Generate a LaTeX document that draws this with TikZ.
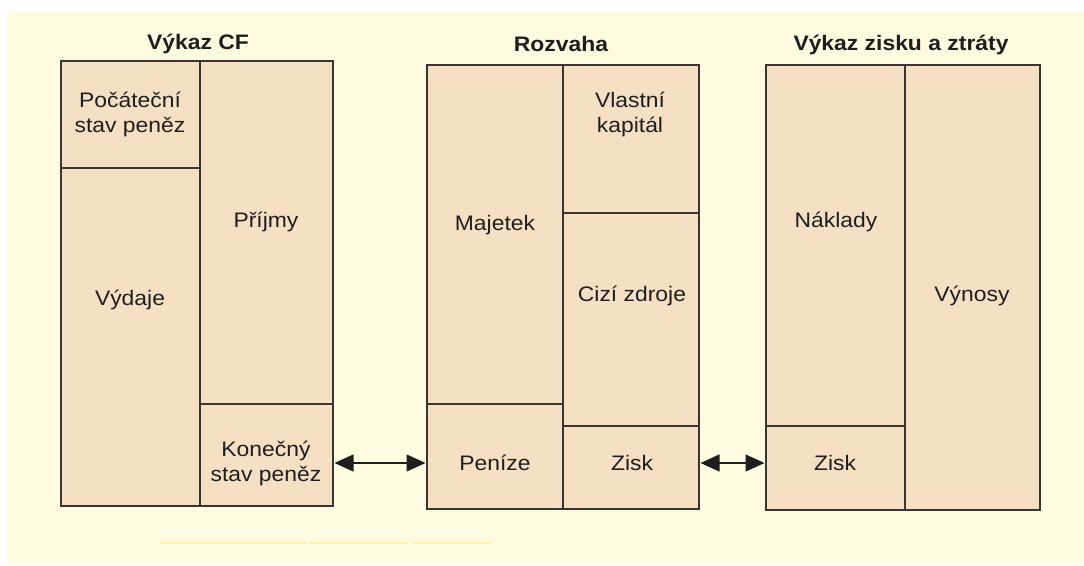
\documentclass[tikz,border=0pt]{standalone}
\usepackage{fontspec}
\setmainfont{Liberation Sans}[FakeStretch=1.09]
\usetikzlibrary{arrows.meta}
\definecolor{panel}{HTML}{FFFBE0}
\definecolor{cellc}{HTML}{F6E0C4}
\definecolor{linec}{HTML}{3A3530}
\definecolor{faint}{HTML}{FFF2A6}
\definecolor{txt}{HTML}{1E1E1E}
\begin{document}
\begin{tikzpicture}[x=1pt,y=-1pt,
  cell/.style={draw=linec, fill=cellc, line width=1.7pt, inner sep=0pt, outer sep=0pt, anchor=north west},
  lab/.style={text=txt, align=center, font=\fontsize{21}{25}\selectfont, inner sep=0pt},
  ttl/.style={text=txt, font=\bfseries\fontsize{21}{25}\selectfont, inner sep=0pt},
  link/.style={draw=txt, line width=1.2pt, {Triangle[length=19pt,width=17pt]}-{Triangle[length=19pt,width=17pt]}, shorten <=1.5pt, shorten >=1.5pt}]
\useasboundingbox (0,0) rectangle (1084,565);
\fill[white] (0,0) rectangle (1084,565);
\fill[panel] (7,12) rectangle (1084,563);
% faint lines at bottom
\draw[faint, line width=2pt] (160,543) -- (305,543);
\draw[faint, line width=2pt] (309,543) -- (407,543);
\draw[faint, line width=2pt] (413,543) -- (491,543);

% Vykaz CF
\node[cell, minimum width=139pt, minimum height=107pt] (cfP) at (61,61) {};
\node[cell, minimum width=139pt, minimum height=338pt] (cfV) at (61,168) {};
\node[cell, minimum width=133pt, minimum height=343pt] (cfPr) at (200,61) {};
\node[cell, minimum width=133pt, minimum height=102pt] (cfK) at (200,404) {};
% Rozvaha
\node[cell, minimum width=136pt, minimum height=339pt] (rzM) at (427,65) {};
\node[cell, minimum width=136pt, minimum height=105pt] (rzP) at (427,404) {};
\node[cell, minimum width=136pt, minimum height=148pt] (rzV) at (563,65) {};
\node[cell, minimum width=136pt, minimum height=213pt] (rzC) at (563,213) {};
\node[cell, minimum width=136pt, minimum height=83pt] (rzZ) at (563,426) {};
% Vykaz zisku a ztraty
\node[cell, minimum width=139pt, minimum height=361pt] (vzN) at (766,65) {};
\node[cell, minimum width=139pt, minimum height=84pt] (vzZ) at (766,426) {};
\node[cell, minimum width=135pt, minimum height=445pt] (vzVy) at (905,65) {};

% titles
\node[ttl] (t1) at (198,44) {Výkaz CF};
\node[ttl] (t2) at (561,44) {Rozvaha};
\node[ttl] (t3) at (901,45) {Výkaz zisku a ztráty};

% labels
\node[lab] (lP) at (130,114) {Počáteční\\stav peněz};
\node[lab] (lPr) at (266,222) {Příjmy};
\node[lab] (lV) at (130,300) {Výdaje};
\node[lab] (lK) at (266,463) {Konečný\\stav peněz};
\node[lab] (lM) at (495,225) {Majetek};
\node[lab] (lVK) at (630,114) {Vlastní\\kapitál};
\node[lab] (lC) at (632,296) {Cizí zdroje};
\node[lab] (lPe) at (495,463) {Peníze};
\node[lab] (lZ1) at (632,463) {Zisk};
\node[lab] (lN) at (836,222) {Náklady};
\node[lab] (lZ2) at (835,463) {Zisk};
\node[lab] (lVy) at (972,296) {Výnosy};

% connectors
\draw[link] (cfK.east |- lPe.center) -- (rzP.west |- lPe.center);
\draw[link] (rzZ.east |- lZ1.center) -- (vzZ.west |- lZ1.center);
\end{tikzpicture}
\end{document}
